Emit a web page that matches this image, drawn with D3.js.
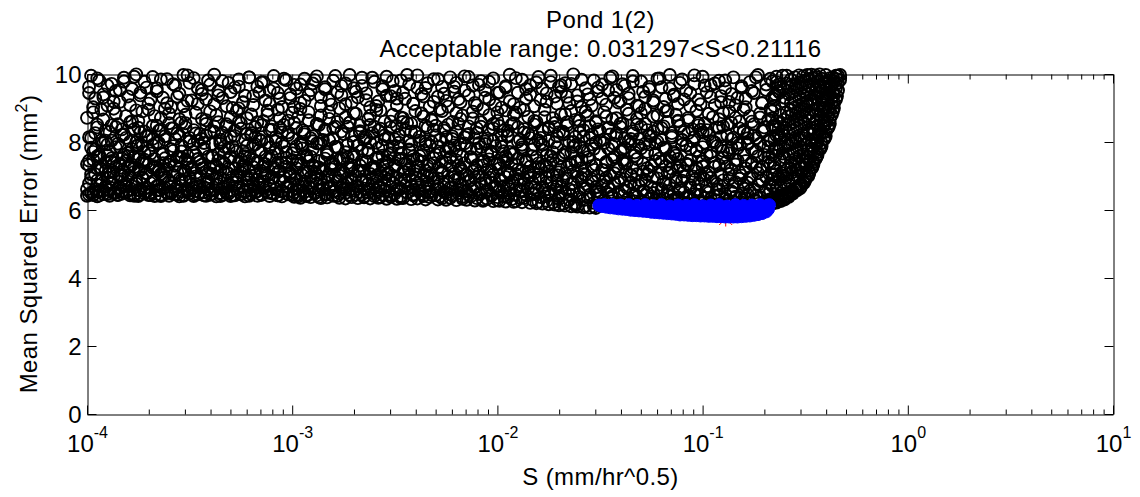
<!DOCTYPE html>
<html>
<head>
<meta charset="utf-8">
<script src="https://cdn.jsdelivr.net/npm/d3@7"></script>
<style>
  body { margin: 0; background: #fff; }
  svg { display: block; }
  text { font-family: "Liberation Sans", Arial, Helvetica, sans-serif; fill: #000; }
</style>
</head>
<body>
<svg id="chart" width="1140" height="497"></svg>
<script>
// Each run: [log10(S), mean squared error]
// Runs close to the error floor, S from 1e-4 to ~0.03 (first batch)
const floorRunsLeft = [
[-4.00,6.42],[-3.99,6.78],[-3.98,6.50],[-3.98,7.05],[-3.97,6.44],[-3.96,6.62],[-3.95,6.87],[-3.95,6.40],[-3.94,6.55],[-3.93,7.21],
[-3.92,6.47],[-3.91,6.69],[-3.90,6.96],[-3.89,6.42],[-3.89,6.58],[-3.88,6.81],[-3.87,7.12],[-3.86,6.51],[-3.85,6.45],[-3.84,6.65],
[-3.83,7.00],[-3.83,6.48],[-3.82,6.73],[-3.81,6.53],[-3.80,6.90],[-3.79,6.43],[-3.78,6.60],[-3.77,7.26],[-3.77,6.46],[-3.76,6.77],
[-3.75,6.41],[-3.74,6.57],[-3.73,6.93],[-3.72,6.49],[-3.71,6.66],[-3.71,7.08],[-3.70,6.44],[-3.69,6.52],[-3.68,6.84],[-3.67,6.41],
[-3.66,6.70],[-3.65,6.59],[-3.65,7.17],[-3.64,6.45],[-3.63,6.63],[-3.62,6.97],[-3.61,6.50],[-3.60,6.42],[-3.59,6.79],[-3.59,6.55],
[-3.58,7.03],[-3.57,6.47],[-3.56,6.68],[-3.55,6.40],[-3.54,6.88],[-3.53,6.54],[-3.53,6.43],[-3.52,7.14],[-3.51,6.61],[-3.50,6.49],
[-3.49,6.75],[-3.48,6.41],[-3.47,6.99],[-3.47,6.56],[-3.46,6.46],[-3.45,6.71],[-3.44,7.22],[-3.43,6.52],[-3.42,6.42],[-3.41,6.85],
[-3.41,6.63],[-3.40,6.45],[-3.39,7.06],[-3.38,6.58],[-3.37,6.40],[-3.36,6.76],[-3.35,6.50],[-3.35,6.94],[-3.34,6.44],[-3.33,6.67],
[-3.32,7.11],[-3.31,6.48],[-3.30,6.41],[-3.29,6.82],[-3.29,6.57],[-3.28,6.43],[-3.27,6.98],[-3.26,6.64],[-3.25,6.46],[-3.24,7.19],
[-3.23,6.53],[-3.23,6.40],[-3.22,6.72],[-3.21,6.89],[-3.20,6.47],[-3.19,6.60],[-3.18,7.02],[-3.17,6.42],[-3.17,6.55],[-3.16,6.80],
[-3.15,6.45],[-3.14,6.66],[-3.13,7.09],[-3.12,6.51],[-3.11,6.41],[-3.11,6.74],[-3.10,6.95],[-3.09,6.48],[-3.08,6.61],[-3.07,6.43],
[-3.06,7.15],[-3.05,6.56],[-3.05,6.40],[-3.04,6.83],[-3.03,6.49],[-3.02,6.69],[-3.01,7.00],[-3.00,6.44],
[-2.99,6.39],[-2.98,6.62],[-2.98,6.91],[-2.97,6.45],[-2.96,6.36],[-2.95,6.77],[-2.94,6.53],[-2.94,7.13],[-2.93,6.41],[-2.92,6.68],
[-2.91,6.38],[-2.90,6.86],[-2.89,6.50],[-2.88,7.04],[-2.88,6.43],[-2.87,6.59],[-2.86,6.35],[-2.85,6.73],[-2.84,6.47],[-2.83,6.97],
[-2.83,6.37],[-2.82,6.64],[-2.81,7.20],[-2.80,6.42],[-2.79,6.55],[-2.78,6.84],[-2.77,6.36],[-2.77,6.49],[-2.76,7.07],[-2.75,6.61],
[-2.74,6.34],[-2.73,6.78],[-2.72,6.44],[-2.71,6.92],[-2.71,6.38],[-2.70,6.57],[-2.69,6.70],[-2.68,6.35],[-2.67,7.16],[-2.66,6.46],
[-2.65,6.63],[-2.65,6.37],[-2.64,6.88],[-2.63,6.52],[-2.62,6.34],[-2.61,6.75],[-2.60,6.41],[-2.59,7.01],[-2.59,6.58],[-2.58,6.36],
[-2.57,6.67],[-2.56,6.45],[-2.55,6.95],[-2.54,6.33],[-2.53,6.54],[-2.53,7.10],[-2.52,6.39],[-2.51,6.80],[-2.50,6.48],[-2.49,6.33],
[-2.48,6.62],[-2.47,6.90],[-2.47,6.41],[-2.46,6.35],[-2.45,6.72],[-2.44,6.51],[-2.43,7.18],[-2.42,6.32],[-2.41,6.59],[-2.41,6.43],
[-2.40,6.85],[-2.39,6.34],[-2.38,6.66],[-2.37,6.47],[-2.36,7.03],[-2.35,6.31],[-2.35,6.55],[-2.34,6.78],[-2.33,6.38],[-2.32,6.44],
[-2.31,6.93],[-2.30,6.61],[-2.29,6.31],[-2.29,6.70],[-2.28,6.40],[-2.27,7.08],[-2.26,6.53],[-2.25,6.30],[-2.24,6.82],[-2.23,6.46],
[-2.23,6.36],[-2.22,6.64],[-2.21,6.97],[-2.20,6.29],[-2.19,6.50],[-2.18,6.74],[-2.17,6.39],[-2.17,7.14],[-2.16,6.57],[-2.15,6.30],
[-2.14,6.43],[-2.13,6.88],[-2.12,6.60],[-2.11,6.28],[-2.11,6.68],[-2.10,6.35],[-2.09,7.00],[-2.08,6.48],[-2.07,6.27],[-2.06,6.79],
[-2.05,6.54],[-2.05,6.33],[-2.04,6.95],[-2.03,6.42],[-2.02,6.26],[-2.01,6.65],[-2.00,6.38],
[-1.99,6.27],[-1.99,6.58],[-1.98,6.86],[-1.97,6.40],[-1.96,6.25],[-1.95,6.71],[-1.94,6.49],[-1.94,7.05],[-1.93,6.32],[-1.92,6.24],
[-1.91,6.62],[-1.90,6.91],[-1.89,6.36],[-1.88,6.23],[-1.88,6.55],[-1.87,6.77],[-1.86,6.44],[-1.85,7.12],[-1.84,6.21],[-1.83,6.30],
[-1.82,6.66],[-1.82,6.48],[-1.81,6.20],[-1.80,6.96],[-1.79,6.38],[-1.78,6.19],[-1.77,6.59],[-1.76,6.82],[-1.76,6.27],[-1.75,6.17],
[-1.74,6.45],[-1.73,7.02],[-1.72,6.16],[-1.71,6.69],[-1.70,6.33],[-1.70,6.14],[-1.69,6.52],[-1.68,6.88],[-1.67,6.13],[-1.66,6.24],
[-1.65,6.61],[-1.64,6.42],[-1.64,6.11],[-1.63,6.78],[-1.62,6.19],[-1.61,6.10],[-1.60,6.50],[-1.59,6.95],[-1.58,6.29],[-1.58,6.08],
[-1.57,6.64],[-1.56,6.37],[-1.55,6.07],[-1.54,6.84],[-1.53,6.21],[-1.52,6.55],[-1.52,6.06],[-1.51,6.46],[-1.50,6.15]
];

// Runs close to the error floor, S from 1e-4 to ~0.03 (second batch)
const floorRunsLeft2 = [
[-4.00,6.61],[-3.99,7.32],[-3.99,6.45],[-3.98,6.93],[-3.97,7.48],[-3.97,6.52],[-3.96,7.05],[-3.95,6.74],[-3.95,7.58],[-3.94,6.43],
[-3.93,6.86],[-3.93,7.19],[-3.92,6.57],[-3.91,7.40],[-3.91,6.68],[-3.90,6.47],[-3.89,7.11],[-3.89,6.81],[-3.88,7.52],[-3.87,6.50],
[-3.87,6.99],[-3.86,7.27],[-3.85,6.64],[-3.85,6.44],[-3.84,7.36],[-3.83,6.90],[-3.83,6.55],[-3.82,7.14],[-3.81,6.77],[-3.81,7.45],
[-3.80,7.02],[-3.79,6.48],[-3.79,7.29],[-3.78,6.70],[-3.77,6.42],[-3.77,7.55],[-3.76,6.84],[-3.75,6.59],[-3.75,7.17],[-3.74,6.46],
[-3.73,6.96],[-3.73,7.42],[-3.72,6.63],[-3.71,7.08],[-3.71,6.53],[-3.70,7.34],[-3.69,6.79],[-3.69,6.44],[-3.68,7.24],[-3.67,6.88],
[-3.67,7.50],[-3.66,6.58],[-3.65,6.72],[-3.65,7.12],[-3.64,6.41],[-3.63,7.38],[-3.63,6.95],[-3.62,6.66],[-3.61,7.21],[-3.61,6.51],
[-3.60,6.83],[-3.59,7.44],[-3.59,6.49],[-3.58,7.01],[-3.57,6.62],[-3.57,7.30],[-3.56,6.45],[-3.55,6.91],[-3.55,7.56],[-3.54,6.71],
[-3.53,6.42],[-3.53,7.16],[-3.52,6.85],[-3.51,7.39],[-3.51,6.54],[-3.50,6.97],[-3.49,7.25],[-3.49,6.60],[-3.48,6.46],[-3.47,7.09],
[-3.47,6.76],[-3.46,7.49],[-3.45,6.52],[-3.45,6.94],[-3.44,7.33],[-3.43,6.67],[-3.43,6.43],[-3.42,7.13],[-3.41,6.80],[-3.41,7.57],
[-3.40,6.58],[-3.39,7.04],[-3.39,6.47],[-3.38,7.28],[-3.37,6.73],[-3.37,6.92],[-3.36,7.46],[-3.35,6.41],[-3.35,7.18],[-3.34,6.63],
[-3.33,6.87],[-3.33,7.37],[-3.32,6.50],[-3.31,7.07],[-3.31,6.75],[-3.30,7.53],[-3.29,6.44],[-3.29,6.98],[-3.28,7.22],[-3.27,6.60],
[-3.27,6.82],[-3.26,7.41],[-3.25,6.48],[-3.25,7.10],[-3.24,6.69],[-3.23,7.31],[-3.23,6.56],[-3.22,6.93],[-3.21,7.54],[-3.21,6.42],
[-3.20,7.00],[-3.19,6.78],[-3.19,7.26],[-3.18,6.53],[-3.17,6.89],[-3.17,7.43],[-3.16,6.65],[-3.15,7.15],[-3.15,6.45],[-3.14,6.84],
[-3.13,7.35],[-3.13,6.57],[-3.12,7.03],[-3.11,6.71],[-3.11,7.50],[-3.10,6.49],[-3.09,6.95],[-3.09,7.20],[-3.08,6.62],[-3.07,6.43],
[-3.07,7.12],[-3.06,6.86],[-3.05,7.39],[-3.05,6.54],[-3.04,6.97],[-3.03,7.27],[-3.03,6.68],[-3.02,6.46],[-3.01,7.06],[-3.01,6.79],
[-3.00,7.47],[-2.99,6.52],[-2.99,6.90],[-2.98,7.23],[-2.97,6.40],[-2.97,6.73],[-2.96,7.36],[-2.95,6.58],[-2.95,7.02],[-2.94,6.84],
[-2.93,7.55],[-2.93,6.44],[-2.92,7.14],[-2.91,6.66],[-2.91,6.97],[-2.90,7.30],[-2.89,6.49],[-2.89,7.09],[-2.88,6.78],[-2.87,7.44],
[-2.87,6.38],[-2.86,6.92],[-2.85,7.19],[-2.85,6.61],[-2.84,7.51],[-2.83,6.81],[-2.83,6.46],[-2.82,7.04],[-2.81,6.69],[-2.81,7.34],
[-2.80,6.55],[-2.79,6.99],[-2.79,7.27],[-2.78,6.42],[-2.77,6.87],[-2.77,7.48],[-2.76,6.64],[-2.75,7.11],[-2.75,6.75],[-2.74,6.50],
[-2.73,7.38],[-2.73,6.94],[-2.72,6.59],[-2.71,7.21],[-2.71,6.83],[-2.70,7.56],[-2.69,6.45],[-2.69,7.00],[-2.68,6.71],[-2.67,7.31],
[-2.67,6.53],[-2.66,6.89],[-2.65,7.15],[-2.65,6.40],[-2.64,7.42],[-2.63,6.77],[-2.63,6.60],[-2.62,7.06],[-2.61,6.96],[-2.61,7.25],
[-2.60,6.48],[-2.59,6.85],[-2.59,7.53],[-2.58,6.67],[-2.57,7.08],[-2.57,6.38],[-2.56,7.33],[-2.55,6.74],[-2.55,6.56],[-2.54,7.18],
[-2.53,6.91],[-2.53,7.45],[-2.52,6.44],[-2.51,7.01],[-2.51,6.80],[-2.50,7.28],[-2.49,6.58],[-2.49,6.95],[-2.48,7.50],[-2.47,6.63],
[-2.47,6.36],[-2.46,7.12],[-2.45,6.86],[-2.45,7.37],[-2.44,6.52],[-2.43,6.98],[-2.43,7.22],[-2.42,6.70],[-2.41,7.57],[-2.41,6.46],
[-2.40,7.05],[-2.39,6.79],[-2.39,7.30],[-2.38,6.57],[-2.37,6.90],[-2.37,7.43],[-2.36,6.41],[-2.35,7.16],[-2.35,6.68],[-2.34,6.97],
[-2.33,7.35],[-2.33,6.54],[-2.32,7.02],[-2.31,6.82],[-2.31,7.52],[-2.30,6.44],[-2.29,6.93],[-2.29,7.24],[-2.28,6.62],[-2.27,6.35],
[-2.27,7.10],[-2.26,6.76],[-2.25,7.40],[-2.25,6.51],[-2.24,6.99],[-2.23,7.29],[-2.23,6.65],[-2.22,6.43],[-2.21,7.07],[-2.21,6.87],
[-2.20,7.46],[-2.19,6.58],[-2.19,6.94],[-2.18,7.20],[-2.17,6.33],[-2.17,6.72],[-2.16,7.38],[-2.15,6.55],[-2.15,7.03],[-2.14,6.84],
[-2.13,7.54],[-2.13,6.40],[-2.12,7.13],[-2.11,6.67],[-2.11,6.96],[-2.10,7.32],[-2.09,6.47],[-2.09,7.08],[-2.08,6.78],[-2.07,7.44],
[-2.07,6.31],[-2.06,6.91],[-2.05,7.19],[-2.05,6.60],[-2.04,7.49],[-2.03,6.81],[-2.03,6.44],[-2.02,7.04],[-2.01,6.70],[-2.01,7.34],
[-2.00,6.29],[-1.99,6.88],[-1.99,7.22],[-1.98,6.52],[-1.97,7.45],[-1.97,6.70],[-1.96,6.97],[-1.95,6.38],[-1.95,7.12],[-1.94,6.61],
[-1.93,7.36],[-1.93,6.83],[-1.92,6.45],[-1.91,7.05],[-1.91,6.26],[-1.90,7.51],[-1.89,6.74],[-1.89,6.56],[-1.88,7.17],[-1.87,6.92],
[-1.87,6.35],[-1.86,7.40],[-1.85,6.64],[-1.85,6.99],[-1.84,7.28],[-1.83,6.47],[-1.83,6.81],[-1.82,7.09],[-1.81,6.58],[-1.81,7.55],
[-1.80,6.24],[-1.79,6.90],[-1.79,7.20],[-1.78,6.68],[-1.77,6.40],[-1.77,7.33],[-1.76,6.95],[-1.75,6.53],[-1.75,7.13],[-1.74,6.79],
[-1.73,6.22],[-1.73,7.47],[-1.72,6.60],[-1.71,7.02],[-1.71,6.86],[-1.70,6.41],[-1.69,7.26],[-1.69,6.70],[-1.68,6.18],[-1.67,7.07],
[-1.67,6.51],[-1.66,6.93],[-1.65,7.38],[-1.65,6.30],[-1.64,6.77],[-1.63,7.15],[-1.63,6.57],[-1.62,6.14],[-1.61,6.98],[-1.61,7.42],
[-1.60,6.38],[-1.59,6.84],[-1.59,7.23],[-1.58,6.62],[-1.57,6.12],[-1.57,7.04],[-1.56,6.72],[-1.55,7.49],[-1.55,6.45],[-1.54,6.91],
[-1.53,6.10],[-1.53,7.18],[-1.52,6.67],[-1.51,6.34],[-1.51,7.01]
];

// Runs just above the accepted band, S from ~0.03 to ~0.22
const floorRunsMid = [
[-1.49,6.72],[-1.48,6.28],[-1.47,6.95],[-1.46,6.47],[-1.46,6.18],[-1.45,6.60],[-1.44,6.36],[-1.43,7.08],[-1.42,6.22],[-1.41,6.81],
[-1.41,6.53],[-1.40,6.17],[-1.39,6.41],[-1.38,6.90],[-1.37,6.30],[-1.37,6.66],[-1.36,6.20],[-1.35,7.01],[-1.34,6.49],[-1.33,6.25],
[-1.33,6.75],[-1.32,6.38],[-1.31,6.17],[-1.30,6.86],[-1.29,6.57],[-1.29,6.23],[-1.28,6.44],[-1.27,7.05],[-1.26,6.32],[-1.25,6.19],
[-1.25,6.68],[-1.24,6.50],[-1.23,6.27],[-1.22,6.93],[-1.21,6.40],[-1.21,6.18],[-1.20,6.62],[-1.19,6.34],[-1.18,6.79],[-1.17,6.21],
[-1.17,6.55],[-1.16,7.10],[-1.15,6.29],[-1.14,6.46],[-1.13,6.17],[-1.13,6.84],[-1.12,6.37],[-1.11,6.64],[-1.10,6.24],[-1.09,6.98],
[-1.09,6.52],[-1.08,6.19],[-1.07,6.42],[-1.06,6.73],[-1.05,6.31],[-1.05,6.17],[-1.04,6.89],[-1.03,6.58],[-1.02,6.26],[-1.01,6.45],
[-1.01,7.03],[-1.00,6.20],[-0.99,6.36],[-0.98,6.69],[-0.97,6.23],[-0.97,6.51],[-0.96,6.95],[-0.95,6.17],[-0.94,6.40],[-0.93,6.77],
[-0.93,6.28],[-0.92,6.61],[-0.91,6.19],[-0.90,6.87],[-0.89,6.47],[-0.89,6.33],[-0.88,6.18],[-0.87,7.06],[-0.86,6.55],[-0.85,6.25],
[-0.85,6.70],[-0.84,6.39],[-0.83,6.17],[-0.82,6.92],[-0.81,6.48],[-0.81,6.22],[-0.80,6.63],[-0.79,6.34],[-0.78,6.80],[-0.77,6.19],
[-0.77,6.56],[-0.76,6.99],[-0.75,6.30],[-0.74,6.43],[-0.73,6.18],[-0.73,6.74],[-0.72,6.37],[-0.71,6.88],[-0.70,6.24],[-0.69,6.59],
[-0.69,6.17],[-0.68,6.46],[-0.67,6.78],[-0.66,6.20],
[-1.50,6.52],[-1.49,7.18],[-1.48,6.85],[-1.47,6.23],[-1.47,7.40],[-1.46,6.68],[-1.45,7.02],[-1.44,6.41],[-1.43,6.78],[-1.42,7.29],
[-1.41,6.20],[-1.40,6.93],[-1.39,7.47],[-1.38,6.56],[-1.37,7.12],[-1.36,6.35],[-1.35,6.81],[-1.34,7.24],[-1.33,6.46],[-1.32,7.05],
[-1.31,6.72],[-1.30,6.28],[-1.29,7.36],[-1.28,6.88],[-1.27,6.51],[-1.26,7.15],[-1.25,6.40],[-1.24,6.97],[-1.23,7.44],[-1.22,6.63],
[-1.21,6.24],[-1.20,7.08],[-1.19,6.83],[-1.18,7.30],[-1.17,6.44],[-1.16,6.74],[-1.15,7.21],[-1.14,6.30],[-1.13,6.95],[-1.12,7.50],
[-1.11,6.58],[-1.10,6.86],[-1.09,7.14],[-1.08,6.38],[-1.07,7.33],[-1.06,6.66],[-1.05,6.99],[-1.04,6.47],[-1.03,7.25],[-1.02,6.79],
[-1.01,6.22],[-1.00,7.42],[-0.99,6.90],[-0.98,6.54],[-0.97,7.10],[-0.96,6.33],[-0.95,6.84],[-0.94,7.27],[-0.93,6.61],[-0.92,6.43],
[-0.91,7.04],[-0.90,6.71],[-0.89,7.38],[-0.88,6.27],[-0.87,6.92],[-0.86,7.19],[-0.85,6.50],[-0.84,6.82],[-0.83,7.46],[-0.82,6.36],
[-0.81,7.01],[-0.80,6.75],[-0.79,7.22],[-0.78,6.45],[-0.77,6.94],[-0.76,7.35],[-0.75,6.60],[-0.74,6.25],[-0.73,7.09],[-0.72,6.85],
[-0.71,7.28],[-0.70,6.52],[-0.69,6.97],[-0.68,7.41],[-0.67,6.32],[-0.66,6.70]
];

// Runs with error between ~7 and 10 (first batch)
const upperRuns = [
[-4.00,7.35],[-3.99,9.62],[-3.99,8.14],[-3.98,9.95],[-3.97,7.71],[-3.97,8.87],[-3.96,9.28],[-3.95,7.22],[-3.95,8.43],[-3.94,9.81],
[-3.94,7.56],[-3.93,8.05],[-3.92,9.40],[-3.92,8.66],[-3.91,7.14],[-3.90,9.07],[-3.90,7.93],[-3.89,8.29],[-3.88,9.71],[-3.88,7.44],
[-3.87,8.98],[-3.86,7.85],[-3.86,9.50],[-3.85,8.52],[-3.84,7.03],[-3.84,9.18],[-3.83,8.21],[-3.82,7.63],[-3.82,9.89],[-3.81,8.76],
[-3.80,7.28],[-3.80,9.34],[-3.79,8.01],[-3.78,7.79],[-3.78,9.56],[-3.77,8.38],[-3.77,7.12],[-3.76,8.93],[-3.76,9.99],[-3.75,7.50],
[-3.75,8.62],[-3.74,7.17],[-3.74,9.45],[-3.73,7.88],[-3.72,8.31],[-3.72,9.77],[-3.71,7.40],[-3.70,8.95],[-3.70,9.13],[-3.69,7.66],
[-3.68,8.09],[-3.68,9.91],[-3.67,7.25],[-3.66,8.48],[-3.66,9.58],[-3.65,7.97],[-3.64,8.71],[-3.64,7.06],[-3.63,9.30],[-3.62,8.17],
[-3.62,7.52],[-3.61,9.85],[-3.60,8.84],[-3.60,7.33],[-3.59,9.03],[-3.58,8.40],[-3.58,7.74],[-3.57,9.66],[-3.56,8.25],[-3.56,7.11],
[-3.55,9.42],[-3.54,8.57],[-3.54,7.90],[-3.53,9.97],[-3.52,7.47],[-3.52,8.80],[-3.51,9.21],[-3.51,7.59],[-3.50,8.12],[-3.50,9.74],
[-3.49,7.19],[-3.48,8.35],[-3.48,9.88],[-3.47,7.61],[-3.46,9.12],[-3.46,8.03],[-3.45,7.42],[-3.44,9.53],[-3.44,8.68],[-3.43,7.80],
[-3.42,9.26],[-3.42,8.19],[-3.41,7.09],[-3.40,9.69],[-3.40,8.90],[-3.39,7.54],[-3.38,8.46],[-3.38,9.98],[-3.37,7.30],[-3.36,8.58],
[-3.36,9.37],[-3.35,7.95],[-3.34,8.27],[-3.34,9.79],[-3.33,7.68],[-3.32,9.05],[-3.32,8.11],[-3.31,7.21],[-3.30,9.47],[-3.30,8.73],
[-3.29,7.87],[-3.28,9.60],[-3.28,8.33],[-3.27,7.02],[-3.26,8.99],[-3.26,9.84],[-3.25,7.49],[-3.25,8.55],[-3.24,9.16],[-3.24,7.73],
[-3.23,9.36],[-3.23,7.58],[-3.22,8.24],[-3.21,9.90],[-3.21,7.15],[-3.20,8.81],[-3.19,9.09],[-3.19,7.91],[-3.18,8.44],[-3.17,9.63],
[-3.17,7.37],[-3.16,8.07],[-3.15,9.75],[-3.15,7.70],[-3.14,8.61],[-3.13,9.22],[-3.13,7.04],[-3.12,8.92],[-3.11,9.51],[-3.11,7.83],
[-3.10,8.36],[-3.09,9.94],[-3.09,7.26],[-3.08,8.15],[-3.07,9.44],[-3.07,7.65],[-3.06,8.69],[-3.05,9.03],[-3.05,7.98],[-3.04,8.50],
[-3.03,9.82],[-3.03,7.39],[-3.02,8.28],[-3.01,9.29],[-3.01,7.10],[-3.00,8.86],[-2.99,9.68],[-2.99,7.77],[-2.98,8.41],[-2.98,9.57],
[-2.97,7.44],[-2.96,8.97],[-2.96,9.15],[-2.95,7.81],[-2.94,8.23],[-2.94,9.86],[-2.93,7.08],[-2.92,8.64],[-2.92,9.39],[-2.91,7.57],
[-2.90,8.02],[-2.90,9.72],[-2.89,7.29],[-2.88,8.53],[-2.88,9.93],[-2.87,7.96],[-2.86,8.78],[-2.86,9.06],[-2.85,7.18],[-2.84,8.37],
[-2.84,9.55],[-2.83,7.69],[-2.82,8.88],[-2.82,9.24],[-2.81,7.36],[-2.80,8.10],[-2.80,9.80],[-2.79,7.86],[-2.78,8.59],[-2.78,9.46],
[-2.77,7.01],[-2.76,8.31],[-2.76,9.65],[-2.75,7.52],[-2.74,8.72],[-2.74,9.11],[-2.73,7.92],[-2.73,8.45],[-2.72,9.97],[-2.72,7.24],
[-2.71,8.18],[-2.70,9.58],[-2.70,7.64],[-2.69,8.83],[-2.68,9.31],[-2.68,7.13],[-2.67,8.49],[-2.66,9.89],[-2.66,7.75],[-2.65,8.06],
[-2.64,9.43],[-2.64,7.41],[-2.63,8.67],[-2.62,9.02],[-2.62,7.98],[-2.61,8.26],[-2.60,9.77],[-2.60,7.20],[-2.59,8.94],[-2.58,9.19],
[-2.58,7.55],[-2.57,8.39],[-2.56,9.64],[-2.56,7.89],[-2.55,8.60],[-2.54,9.92],[-2.54,7.05],[-2.53,8.13],[-2.52,9.35],[-2.52,7.67],
[-2.51,8.80],[-2.50,9.50],[-2.50,7.32],[-2.49,8.47],[-2.49,9.08],[-2.48,7.83],[-2.48,8.21],[-2.47,9.81],[-2.47,7.46],[-2.46,8.70],
[-2.45,9.27],[-2.45,7.12],[-2.44,8.56],[-2.43,9.70],[-2.43,7.78],[-2.42,8.30],[-2.41,9.13],[-2.41,7.48],[-2.40,8.91],[-2.39,9.96],
[-2.39,7.27],[-2.38,8.04],[-2.37,9.41],[-2.37,7.62],[-2.36,8.75],[-2.35,9.59],[-2.35,7.94],[-2.34,8.42],[-2.33,9.04],[-2.33,7.07],
[-2.32,8.63],[-2.31,9.85],[-2.31,7.38],[-2.30,8.19],[-2.29,9.33],[-2.29,7.85],[-2.28,8.97],[-2.27,9.62],[-2.27,7.16],[-2.26,8.34],
[-2.25,9.21],[-2.25,7.72],[-2.24,8.51],[-2.23,9.90],[-2.23,7.53],[-2.22,8.09],[-2.21,9.48],[-2.21,7.90],[-2.20,8.85],[-2.20,9.74],
[-2.19,7.31],[-2.18,8.68],[-2.18,9.17],[-2.17,7.59],[-2.16,8.14],[-2.16,9.93],[-2.15,7.04],[-2.14,8.46],[-2.14,9.38],[-2.13,7.80],
[-2.12,8.89],[-2.12,9.66],[-2.11,7.22],[-2.10,8.27],[-2.10,9.08],[-2.09,7.97],[-2.08,8.58],[-2.08,9.79],[-2.07,7.43],[-2.06,8.01],
[-2.06,9.52],[-2.05,7.68],[-2.04,8.79],[-2.04,9.25],[-2.03,7.14],[-2.02,8.40],[-2.02,9.87],[-2.01,7.88],[-2.00,8.62],[-2.00,9.44],
[-1.99,7.35],[-1.98,8.20],[-1.98,9.01],[-1.97,7.73],[-1.96,8.93],[-1.96,9.60],[-1.95,7.50],[-1.95,8.33],[-1.94,9.98],[-1.94,7.09],
[-1.93,8.52],[-1.92,9.11],[-1.92,7.66],[-1.91,8.86],[-1.90,9.45],[-1.90,7.19],[-1.89,8.07],[-1.88,9.83],[-1.88,7.84],[-1.87,8.38],
[-1.86,9.28],[-1.86,7.45],[-1.85,8.74],[-1.84,9.67],[-1.84,7.02],[-1.83,8.24],[-1.82,9.05],[-1.82,7.91],[-1.81,8.60],[-1.80,9.91],
[-1.80,7.37],[-1.79,8.12],[-1.78,9.56],[-1.78,7.76],[-1.77,8.95],[-1.76,9.19],[-1.76,7.28],[-1.75,8.44],[-1.74,9.76],[-1.74,7.58],
[-1.73,8.70],[-1.72,9.34],[-1.72,7.99],[-1.71,8.17],[-1.70,9.63],[-1.70,7.11],[-1.69,8.81],[-1.69,9.47],[-1.68,7.63],[-1.68,8.30],
[-1.67,9.73],[-1.66,7.26],[-1.66,8.49],[-1.65,9.14],[-1.64,7.70],[-1.64,8.91],[-1.63,9.99],[-1.62,7.42],[-1.62,8.15],[-1.61,9.37],
[-1.60,7.87],[-1.60,8.63],[-1.59,9.02],[-1.58,7.06],[-1.58,8.35],[-1.57,9.58],[-1.56,7.55],[-1.56,8.78],[-1.55,9.26],[-1.54,7.93],
[-1.54,8.22],[-1.53,9.81],[-1.52,7.33],[-1.52,8.57],[-1.51,9.49],[-1.50,7.64],[-1.50,8.04],[-1.49,9.69],[-1.48,7.17],[-1.48,8.88],
[-1.47,9.10],[-1.46,7.81],[-1.46,8.41],[-1.45,9.89],[-1.44,7.48],[-1.44,8.67],[-1.43,9.30],[-1.43,7.95],[-1.42,8.26],[-1.42,9.53],
[-1.41,7.21],[-1.40,8.54],[-1.40,9.20],[-1.39,7.77],[-1.38,8.10],[-1.38,9.65],[-1.37,7.39],[-1.36,8.83],[-1.36,9.42],[-1.35,7.03],
[-1.34,8.32],[-1.34,9.94],[-1.33,7.60],[-1.32,8.69],[-1.32,9.07],[-1.31,7.89],[-1.30,8.45],[-1.30,9.78],[-1.29,7.13],[-1.28,8.97],
[-1.28,9.33],[-1.27,7.71],[-1.26,8.18],[-1.26,9.55],[-1.25,7.30],[-1.24,8.75],[-1.24,9.16],[-1.23,7.96],[-1.22,8.38],[-1.22,9.86],
[-1.21,7.51],[-1.20,8.06],[-1.20,9.61],[-1.19,7.84],[-1.18,8.90],[-1.18,9.27],[-1.17,7.08],[-1.17,8.59],[-1.16,9.97],[-1.16,7.44],
[-1.15,8.13],[-1.14,9.39],[-1.14,7.66],[-1.13,8.80],[-1.12,9.12],[-1.12,7.24],[-1.11,8.47],[-1.10,9.84],[-1.10,7.92],[-1.09,8.29],
[-1.08,9.51],[-1.08,7.36],[-1.07,8.64],[-1.06,9.04],[-1.06,7.79],[-1.05,8.02],[-1.04,9.71],[-1.04,7.15],[-1.03,8.92],[-1.02,9.24],
[-1.02,7.57],[-1.01,8.36],[-1.00,9.92],[-1.00,7.85],[-0.99,8.55],[-0.98,9.46],[-0.98,7.05],[-0.97,8.21],[-0.96,9.67],[-0.96,7.69],
[-0.95,8.73],[-0.94,9.09],[-0.94,7.99],[-0.93,8.43],[-0.92,9.80],[-0.92,7.32],[-0.91,8.16],[-0.91,9.35],[-0.90,7.74],[-0.90,8.87],
[-0.89,9.58],[-0.88,7.28],[-0.88,8.51],[-0.87,9.18],[-0.86,7.83],[-0.86,8.08],[-0.85,9.90],[-0.84,7.47],[-0.84,8.71],[-0.83,9.30],
[-0.82,7.10],[-0.82,8.40],[-0.81,9.64],[-0.80,7.62],[-0.80,8.95],[-0.79,9.02],[-0.78,7.94],[-0.78,8.25],[-0.77,9.76],[-0.76,7.40],
[-0.76,8.60],[-0.75,9.44],[-0.74,7.72],[-0.74,8.11],[-0.73,9.97],[-0.72,7.20],[-0.72,8.84],[-0.71,9.15],[-0.70,7.88],[-0.70,8.33],
[-0.69,9.53],[-0.68,7.55],[-0.68,8.66],[-0.67,9.86],[-0.66,7.03],[-0.66,8.46],[-0.65,9.25],[-0.65,7.79],[-0.64,8.19],[-0.63,9.69]
];

// Runs with error between ~7.5 and 10 (second batch)
const upperRuns2 = [
[-4.00,8.71],[-3.99,9.44],[-3.98,7.83],[-3.97,9.02],[-3.96,8.26],[-3.95,9.87],[-3.94,7.62],[-3.93,8.95],[-3.92,9.31],[-3.91,8.04],
[-3.90,9.66],[-3.89,7.74],[-3.88,8.49],[-3.87,9.19],[-3.86,8.83],[-3.85,7.95],[-3.84,9.53],[-3.83,8.37],[-3.82,9.78],[-3.81,8.12],
[-3.80,7.58],[-3.79,9.08],[-3.78,8.61],[-3.77,9.92],[-3.76,7.88],[-3.75,8.42],[-3.74,9.37],[-3.73,8.90],[-3.72,7.69],[-3.71,9.60],
[-3.70,8.18],[-3.69,9.25],[-3.68,7.91],[-3.67,8.76],[-3.66,9.49],[-3.65,8.33],[-3.64,9.84],[-3.63,7.66],[-3.62,8.98],[-3.61,9.14],
[-3.60,8.55],[-3.59,7.79],[-3.58,9.70],[-3.57,8.09],[-3.56,9.33],[-3.55,8.67],[-3.54,7.54],[-3.53,9.05],[-3.52,8.44],[-3.51,9.96],
[-3.50,8.01],[-3.49,9.22],[-3.48,7.71],[-3.47,8.86],[-3.46,9.58],[-3.45,8.23],[-3.44,9.41],[-3.43,7.97],[-3.42,8.64],[-3.41,9.81],
[-3.40,8.30],[-3.39,7.60],[-3.38,9.11],[-3.37,8.79],[-3.36,9.50],[-3.35,8.07],[-3.34,9.29],[-3.33,7.86],[-3.32,8.52],[-3.31,9.74],
[-3.30,8.15],[-3.29,9.00],[-3.28,7.76],[-3.27,8.92],[-3.26,9.63],[-3.25,8.39],[-3.24,9.17],[-3.23,7.65],[-3.22,8.70],[-3.21,9.90],
[-3.20,8.20],[-3.19,9.35],[-3.18,7.93],[-3.17,8.58],[-3.16,9.47],[-3.15,8.03],[-3.14,9.76],[-3.13,7.57],[-3.12,8.81],[-3.11,9.13],
[-3.10,8.46],[-3.09,9.57],[-3.08,7.80],[-3.07,8.96],[-3.06,9.27],[-3.05,8.28],[-3.04,9.86],[-3.03,7.70],[-3.02,8.63],[-3.01,9.40],
[-3.00,8.11],[-2.99,9.03],[-2.98,7.87],[-2.97,8.74],[-2.96,9.69],[-2.95,8.35],[-2.94,9.21],[-2.93,7.61],[-2.92,8.88],[-2.91,9.52],
[-2.90,8.17],[-2.89,9.82],[-2.88,7.96],[-2.87,8.50],[-2.86,9.32],[-2.85,8.06],[-2.84,9.61],[-2.83,7.73],[-2.82,8.68],[-2.81,9.10],
[-2.80,8.41],[-2.79,9.94],[-2.78,7.84],[-2.77,8.99],[-2.76,9.38],[-2.75,8.24],[-2.74,9.72],[-2.73,7.55],[-2.72,8.57],[-2.71,9.16],
[-2.70,8.85],[-2.69,9.48],[-2.68,7.90],[-2.67,8.32],[-2.66,9.65],[-2.65,8.13],[-2.64,9.23],[-2.63,7.68],[-2.62,8.77],[-2.61,9.89],
[-2.60,8.45],[-2.59,9.06],[-2.58,7.82],[-2.57,8.93],[-2.56,9.55],[-2.55,8.19],[-2.54,9.36],[-2.53,7.63],[-2.52,8.60],[-2.51,9.79],
[-2.50,8.08],[-2.49,9.28],[-2.48,7.98],[-2.47,8.72],[-2.46,9.45],[-2.45,8.36],[-2.44,9.97],[-2.43,7.75],[-2.42,8.54],[-2.41,9.12],
[-2.40,8.27],[-2.39,9.59],[-2.38,7.59],[-2.37,8.84],[-2.36,9.34],[-2.35,8.02],[-2.34,9.73],[-2.33,7.89],[-2.32,8.66],[-2.31,9.18],
[-2.30,8.48],[-2.29,9.85],[-2.28,7.67],[-2.27,8.91],[-2.26,9.42],[-2.25,8.14],[-2.24,9.04],[-2.23,7.81],[-2.22,8.59],[-2.21,9.62],
[-2.20,8.31],[-2.19,9.26],[-2.18,7.94],[-2.17,8.78],[-2.16,9.51],[-2.15,8.21],[-2.14,9.91],[-2.13,7.56],[-2.12,8.69],[-2.11,9.15],
[-2.10,8.40],[-2.09,9.68],[-2.08,7.85],[-2.07,8.97],[-2.06,9.30],[-2.05,8.10],[-2.04,9.77],[-2.03,7.72],[-2.02,8.53],[-2.01,9.09],
[-2.00,8.87],[-1.99,9.46],[-1.98,7.99],[-1.97,8.34],[-1.96,9.64],[-1.95,8.16],[-1.94,9.20],[-1.93,7.64],[-1.92,8.80],[-1.91,9.88],
[-1.90,8.43],[-1.89,9.01],[-1.88,7.78],[-1.87,8.94],[-1.86,9.56],[-1.85,8.25],[-1.84,9.39],[-1.83,7.58],[-1.82,8.62],[-1.81,9.75],
[-1.80,8.05],[-1.79,9.24],[-1.78,7.92],[-1.77,8.73],[-1.76,9.43],[-1.75,8.38],[-1.74,9.95],[-1.73,7.70],[-1.72,8.56],[-1.71,9.13],
[-1.70,8.29],[-1.69,9.67],[-1.68,7.61],[-1.67,8.82],[-1.66,9.33],[-1.65,8.00],[-1.64,9.71],[-1.63,7.86],[-1.62,8.65],[-1.61,9.19],
[-1.60,8.47],[-1.59,9.83],[-1.58,7.74],[-1.57,8.89],[-1.56,9.40],[-1.55,8.12],[-1.54,9.07],[-1.53,7.80],[-1.52,8.61],[-1.51,9.60],
[-1.50,8.32],[-1.49,9.27],[-1.48,7.97],[-1.47,8.75],[-1.46,9.52],[-1.45,8.22],[-1.44,9.93],[-1.43,7.57],[-1.42,8.70],[-1.41,9.16],
[-1.40,8.44],[-1.39,9.70],[-1.38,7.83],[-1.37,8.95],[-1.36,9.29],[-1.35,8.09],[-1.34,9.78],[-1.33,7.69],[-1.32,8.51],[-1.31,9.05],
[-1.30,8.85],[-1.29,9.48],[-1.28,7.95],[-1.27,8.35],[-1.26,9.62],[-1.25,8.17],[-1.24,9.22],[-1.23,7.65],[-1.22,8.78],[-1.21,9.87],
[-1.20,8.41],[-1.19,9.03],[-1.18,7.79],[-1.17,8.92],[-1.16,9.57],[-1.15,8.26],[-1.14,9.35],[-1.13,7.60],[-1.12,8.63],[-1.11,9.74],
[-1.10,8.06],[-1.09,9.25],[-1.08,7.90],[-1.07,8.71],[-1.06,9.44],[-1.05,8.37],[-1.04,9.96],[-1.03,7.73],[-1.02,8.55],[-1.01,9.11],
[-1.00,8.28],[-0.99,9.66],[-0.98,7.62],[-0.97,8.83],[-0.96,9.32],[-0.95,8.01],[-0.94,9.72],[-0.93,7.88],[-0.92,8.67],[-0.91,9.17],
[-0.90,8.46],[-0.89,9.81],[-0.88,7.76],[-0.87,8.90],[-0.86,9.41],[-0.85,8.13],[-0.84,9.08],[-0.83,7.82],[-0.82,8.60],[-0.81,9.59],
[-0.80,8.33],[-0.79,9.28],[-0.78,7.98],[-0.77,8.76],[-0.76,9.50],[-0.75,8.20],[-0.74,9.90],[-0.73,7.58],[-0.72,8.72],[-0.71,9.14],
[-0.70,8.43],[-0.69,9.69],[-0.68,7.85],[-0.67,8.97],[-0.66,9.30],[-0.65,8.08],[-0.64,9.76]
];

// Runs with error between ~7.2 and 8.6 (third batch)
const upperRuns3 = [
[-3.99,7.45],[-3.98,8.12],[-3.96,7.78],[-3.95,8.51],[-3.94,7.26],[-3.92,7.96],[-3.91,8.33],[-3.90,7.61],[-3.88,8.04],[-3.87,7.38],
[-3.86,8.44],[-3.84,7.85],[-3.83,7.52],[-3.82,8.22],[-3.80,7.69],[-3.79,8.58],[-3.78,7.33],[-3.76,8.00],[-3.75,7.91],[-3.74,8.28],
[-3.72,7.48],[-3.71,8.16],[-3.70,7.74],[-3.68,8.47],[-3.67,7.29],[-3.66,7.99],[-3.64,8.37],[-3.63,7.64],[-3.62,8.07],[-3.60,7.41],
[-3.59,8.40],[-3.58,7.88],[-3.56,7.55],[-3.55,8.19],[-3.54,7.72],[-3.52,8.55],[-3.51,7.36],[-3.50,8.03],[-3.48,7.94],[-3.47,8.25],
[-3.46,7.50],[-3.44,8.09],[-3.43,7.81],[-3.42,8.53],[-3.40,7.23],[-3.39,7.93],[-3.38,8.30],[-3.36,7.66],[-3.35,8.01],[-3.34,7.42],
[-3.32,8.46],[-3.31,7.82],[-3.30,7.57],[-3.28,8.18],[-3.27,7.71],[-3.26,8.60],[-3.24,7.31],[-3.23,8.06],[-3.22,7.89],[-3.20,8.26],
[-3.19,7.47],[-3.18,8.14],[-3.16,7.76],[-3.15,8.49],[-3.14,7.28],[-3.12,7.98],[-3.11,8.35],[-3.10,7.59],[-3.08,8.02],[-3.07,7.39],
[-3.06,8.42],[-3.04,7.87],[-3.03,7.53],[-3.02,8.20],[-3.00,7.67],[-2.99,8.56],[-2.98,7.34],[-2.96,7.97],[-2.95,7.92],[-2.94,8.29],
[-2.92,7.44],[-2.91,8.11],[-2.90,7.79],[-2.88,8.52],[-2.87,7.25],[-2.86,7.95],[-2.84,8.32],[-2.83,7.62],[-2.82,8.05],[-2.80,7.37],
[-2.79,8.45],[-2.78,7.84],[-2.76,7.51],[-2.75,8.23],[-2.74,7.70],[-2.72,8.57],[-2.71,7.32],[-2.70,8.00],[-2.68,7.90],[-2.67,8.27],
[-2.66,7.46],[-2.64,8.13],[-2.63,7.77],[-2.62,8.50],[-2.60,7.27],[-2.59,7.98],[-2.58,8.34],[-2.56,7.60],[-2.55,8.08],[-2.54,7.40],
[-2.52,8.43],[-2.51,7.86],[-2.50,7.54],[-2.48,8.21],[-2.47,7.68],[-2.46,8.59],[-2.44,7.35],[-2.43,8.02],[-2.42,7.93],[-2.40,8.30],
[-2.39,7.49],[-2.38,8.15],[-2.36,7.75],[-2.35,8.48],[-2.34,7.30],[-2.32,7.99],[-2.31,8.36],[-2.30,7.63],[-2.28,8.06],[-2.27,7.43],
[-2.26,8.41],[-2.24,7.83],[-2.23,7.56],[-2.22,8.17],[-2.20,7.73],[-2.19,8.54],[-2.18,7.24],[-2.16,7.96],[-2.15,7.88],[-2.14,8.24],
[-2.12,7.50],[-2.11,8.10],[-2.10,7.80],[-2.08,8.45],[-2.07,7.31],[-2.06,7.94],[-2.04,8.38],[-2.03,7.65],[-2.02,8.03],[-2.00,7.36],
[-1.99,8.47],[-1.98,7.86],[-1.96,7.58],[-1.95,8.19],[-1.94,7.71],[-1.92,8.55],[-1.91,7.33],[-1.90,8.01],[-1.88,7.92],[-1.87,8.28],
[-1.86,7.45],[-1.84,8.12],[-1.83,7.78],[-1.82,8.51],[-1.80,7.26],[-1.79,7.96],[-1.78,8.33],[-1.76,7.61],[-1.75,8.04],[-1.74,7.38],
[-1.72,8.44],[-1.71,7.85],[-1.70,7.52],[-1.68,8.22],[-1.67,7.69],[-1.66,8.58],[-1.64,7.33],[-1.63,8.00],[-1.62,7.91],[-1.60,8.28],
[-1.59,7.48],[-1.58,8.16],[-1.56,7.74],[-1.55,8.47],[-1.54,7.29],[-1.52,7.99],[-1.51,8.37],[-1.50,7.64],[-1.48,8.07],[-1.47,7.41],
[-1.46,8.40],[-1.44,7.88],[-1.43,7.55],[-1.42,8.19],[-1.40,7.72],[-1.39,8.55],[-1.38,7.36],[-1.36,8.03],[-1.35,7.94],[-1.34,8.25],
[-1.32,7.50],[-1.31,8.09],[-1.30,7.81],[-1.28,8.53],[-1.27,7.23],[-1.26,7.93],[-1.24,8.30],[-1.23,7.66],[-1.22,8.01],[-1.20,7.42],
[-1.19,8.46],[-1.18,7.82],[-1.16,7.57],[-1.15,8.18],[-1.14,7.71],[-1.12,8.60],[-1.11,7.31],[-1.10,8.06],[-1.08,7.89],[-1.07,8.26],
[-1.06,7.47],[-1.04,8.14],[-1.03,7.76],[-1.02,8.49],[-1.00,7.28],[-0.99,7.98],[-0.98,8.35],[-0.96,7.59],[-0.95,8.02],[-0.94,7.39],
[-0.92,8.42],[-0.91,7.87],[-0.90,7.53],[-0.88,8.20],[-0.87,7.67],[-0.86,8.56],[-0.84,7.34],[-0.83,7.97],[-0.82,7.92],[-0.80,8.29],
[-0.79,7.44],[-0.78,8.11],[-0.76,7.79],[-0.75,8.52],[-0.74,7.25],[-0.72,7.95],[-0.71,8.32],[-0.70,7.62],[-0.68,8.05],[-0.67,7.37]
];

// Runs along the steep right-hand edge, S from ~0.21 to ~0.47
const rightEdgeRuns = [
[-0.66,6.19],[-0.65,6.35],[-0.67,6.58],[-0.66,6.90],[-0.65,7.25],[-0.66,7.62],[-0.67,8.05],[-0.65,8.48],[-0.66,8.90],[-0.65,9.35],[-0.66,9.78],[-0.67,6.27],[-0.65,7.04],[-0.66,8.70],
[-0.64,6.22],[-0.63,6.41],[-0.64,6.66],[-0.63,6.99],[-0.65,7.38],[-0.64,7.80],[-0.63,8.22],[-0.64,8.61],[-0.65,9.06],[-0.63,9.50],[-0.64,9.92],[-0.63,6.30],[-0.64,7.15],[-0.63,8.38],
[-0.62,6.26],[-0.61,6.45],[-0.62,6.73],[-0.61,7.08],[-0.62,7.47],[-0.63,7.92],[-0.61,8.33],[-0.62,8.79],[-0.61,9.20],[-0.62,9.63],[-0.61,9.95],[-0.62,6.36],[-0.61,7.66],[-0.62,8.10],
[-0.60,6.31],[-0.59,6.50],[-0.60,6.80],[-0.59,7.18],[-0.60,7.55],[-0.59,7.98],[-0.60,8.42],[-0.59,8.87],[-0.60,9.30],[-0.59,9.72],[-0.60,6.40],[-0.59,6.95],[-0.60,8.18],[-0.59,9.95],
[-0.58,6.39],[-0.57,6.55],[-0.58,6.85],[-0.57,7.22],[-0.58,7.64],[-0.57,8.06],[-0.58,8.51],[-0.57,8.95],[-0.58,9.40],[-0.57,9.84],[-0.58,6.47],[-0.57,7.40],[-0.58,8.28],[-0.57,9.15],
[-0.56,6.48],[-0.55,6.63],[-0.56,6.92],[-0.55,7.29],[-0.56,7.70],[-0.55,8.12],[-0.56,8.58],[-0.55,9.02],[-0.56,9.47],[-0.55,9.90],[-0.56,6.56],[-0.55,7.50],[-0.56,8.36],[-0.55,9.25],
[-0.54,6.58],[-0.53,6.72],[-0.54,7.00],[-0.53,7.36],[-0.54,7.77],[-0.53,8.19],[-0.54,8.64],[-0.53,9.08],[-0.54,9.53],[-0.53,9.96],[-0.54,6.66],[-0.53,7.57],[-0.54,8.42],[-0.53,9.30],
[-0.52,6.69],[-0.51,6.84],[-0.52,7.10],[-0.51,7.45],[-0.52,7.84],[-0.51,8.26],[-0.52,8.70],[-0.51,9.14],[-0.52,9.58],[-0.51,9.93],[-0.52,6.77],[-0.51,7.64],[-0.52,8.48],[-0.51,9.36],
[-0.50,6.87],[-0.49,7.01],[-0.50,7.24],[-0.49,7.56],[-0.50,7.93],[-0.49,8.33],[-0.50,8.76],[-0.49,9.19],[-0.50,9.62],[-0.49,9.97],[-0.50,6.95],[-0.49,7.74],[-0.50,8.54],[-0.49,9.41],
[-0.48,7.08],[-0.47,7.24],[-0.48,7.44],[-0.47,7.72],[-0.48,8.05],[-0.47,8.42],[-0.48,8.83],[-0.47,9.25],[-0.48,9.66],[-0.47,9.98],[-0.48,7.16],[-0.47,7.90],[-0.48,8.62],[-0.47,9.45],
[-0.46,7.34],[-0.45,7.50],[-0.46,7.69],[-0.45,7.95],[-0.46,8.24],[-0.45,8.57],[-0.46,8.94],[-0.45,9.32],[-0.46,9.71],[-0.45,9.96],[-0.46,7.42],[-0.45,8.10],[-0.46,8.76],[-0.45,9.52],
[-0.44,7.62],[-0.43,7.80],[-0.44,7.98],[-0.43,8.22],[-0.44,8.48],[-0.43,8.78],[-0.44,9.10],[-0.43,9.44],[-0.44,9.78],[-0.43,9.99],[-0.44,7.70],[-0.43,8.36],[-0.44,8.95],[-0.43,9.62],
[-0.42,7.88],[-0.41,8.08],[-0.42,8.25],[-0.41,8.47],[-0.42,8.72],[-0.41,9.00],[-0.42,9.29],[-0.41,9.58],[-0.42,9.86],[-0.42,7.97],[-0.41,8.60],[-0.42,9.15],[-0.41,9.74],
[-0.40,8.18],[-0.39,8.40],[-0.40,8.56],[-0.39,8.78],[-0.40,9.02],[-0.39,9.28],[-0.40,9.55],[-0.39,9.80],[-0.40,9.97],[-0.40,8.30],[-0.39,8.92],[-0.40,9.42],
[-0.38,8.54],[-0.37,8.80],[-0.38,8.95],[-0.37,9.18],[-0.38,9.40],[-0.37,9.64],[-0.38,9.88],[-0.38,8.68],[-0.37,9.30],[-0.38,9.76],
[-0.36,9.00],[-0.35,9.25],[-0.36,9.38],[-0.35,9.58],[-0.36,9.78],[-0.35,9.95],[-0.36,9.15],[-0.35,9.70],
[-0.34,9.52],[-0.34,9.74],[-0.33,9.82],[-0.34,9.95],[-0.33,9.97],
[-0.645,6.25],[-0.645,6.80],[-0.645,7.60],[-0.645,8.45],[-0.645,9.40],
[-0.625,6.30],[-0.625,6.90],[-0.625,7.75],[-0.625,8.55],[-0.625,9.45],
[-0.605,6.33],[-0.605,7.00],[-0.605,7.85],[-0.605,8.65],[-0.605,9.55],
[-0.585,6.42],[-0.585,7.05],[-0.585,7.90],[-0.585,8.75],[-0.585,9.60],
[-0.565,6.50],[-0.565,7.10],[-0.565,7.95],[-0.565,8.80],[-0.565,9.65],
[-0.545,6.60],[-0.545,7.18],[-0.545,8.00],[-0.545,8.85],[-0.545,9.70],
[-0.525,6.64],[-0.525,7.25],[-0.525,8.05],[-0.525,8.90],[-0.525,9.75],
[-0.505,6.80],[-0.505,7.35],[-0.505,8.10],[-0.505,8.95],[-0.505,9.80],
[-0.485,7.00],[-0.485,7.55],[-0.485,8.25],[-0.485,9.05],[-0.485,9.85],
[-0.465,7.25],[-0.465,7.80],[-0.465,8.40],[-0.465,9.10],[-0.465,9.88],
[-0.445,7.55],[-0.445,8.05],[-0.445,8.65],[-0.445,9.30],[-0.445,9.90],
[-0.425,7.80],[-0.425,8.35],[-0.425,8.90],[-0.425,9.50],
[-0.405,8.10],[-0.405,8.65],[-0.405,9.20],[-0.405,9.75],
[-0.385,8.45],[-0.385,9.00],[-0.385,9.55],
[-0.365,8.90],[-0.365,9.45],[-0.365,9.90],
[-0.345,9.35],[-0.345,9.85]
];

// Runs inside the acceptable range (0.031297 < S < 0.21116)
const acceptedRuns = [
[-1.5045,6.14],[-1.49,6.11],[-1.48,6.15],[-1.47,6.09],[-1.46,6.13],[-1.45,6.07],[-1.44,6.15],[-1.43,6.06],[-1.42,6.12],[-1.41,6.04],
[-1.40,6.14],[-1.39,6.03],[-1.38,6.10],[-1.37,6.02],[-1.36,6.15],[-1.35,6.00],[-1.34,6.08],[-1.33,5.99],[-1.32,6.13],[-1.31,5.98],
[-1.30,6.06],[-1.29,5.97],[-1.28,6.15],[-1.27,5.96],[-1.26,6.04],[-1.25,5.94],[-1.24,6.12],[-1.23,5.93],[-1.22,6.03],[-1.21,5.92],
[-1.20,6.15],[-1.19,5.91],[-1.18,6.01],[-1.17,5.90],[-1.16,6.11],[-1.15,5.89],[-1.14,5.99],[-1.13,5.88],[-1.12,6.14],[-1.11,5.86],
[-1.10,6.02],[-1.09,5.86],[-1.08,6.13],[-1.07,5.85],[-1.06,5.98],[-1.05,5.84],[-1.04,6.15],[-1.03,5.84],[-1.02,6.00],[-1.01,5.83],
[-1.00,6.12],[-0.99,5.83],[-0.98,5.96],[-0.97,5.82],[-0.96,6.14],[-0.95,5.82],[-0.94,6.01],[-0.93,5.81],[-0.92,6.15],[-0.91,5.81],
[-0.90,5.97],[-0.89,5.80],[-0.88,6.11],[-0.87,5.80],[-0.86,6.03],[-0.85,5.80],[-0.84,6.15],[-0.83,5.80],[-0.82,5.95],[-0.81,5.81],
[-0.80,6.13],[-0.79,5.82],[-0.78,6.00],[-0.77,5.83],[-0.76,6.14],[-0.75,5.85],[-0.74,6.02],[-0.73,5.87],[-0.72,6.15],[-0.71,5.90],
[-0.70,6.06],[-0.69,5.95],[-0.685,6.13],[-0.68,6.02],[-0.6754,6.15]
];

// Best fit: [S, mean squared error]
const bestFit = [0.1296, 5.75];

const yTickValues = [0, 2, 4, 6, 8, 10];
const xDecades = [-4, -3, -2, -1, 0, 1];
const titleLines = ["Pond 1(2)", "Acceptable range: 0.031297<S<0.21116"];
const xLabel = "S (mm/hr^0.5)";
const yLabel = "Mean Squared Error (mm";

const svg = d3.select("#chart");
const x = d3.scaleLog().domain([1e-4, 10]).range([87, 1113]);
const y = d3.scaleLinear().domain([0, 10]).range([414, 74]);

const minorTicks = [];
xDecades.slice(0, -1).forEach(d => {
  for (let m = 2; m <= 9; m++) minorTicks.push(m * Math.pow(10, d));
});
const majorTicks = xDecades.map(d => Math.pow(10, d));

// Axes box with inward ticks
function styleAxis(g) {
  g.selectAll("path.domain").attr("stroke", "#000").attr("stroke-width", 1);
  g.selectAll(".tick line").attr("stroke", "#000").attr("stroke-width", 1);
}
const axesLayer = svg.append("g");

axesLayer.append("g").attr("transform", `translate(0,${y(0) + 0.5})`)
  .call(d3.axisBottom(x).tickValues(majorTicks).tickSizeInner(-9).tickSizeOuter(0).tickFormat(""))
  .call(styleAxis);
axesLayer.append("g").attr("transform", `translate(0,${y(0) + 0.5})`)
  .call(d3.axisBottom(x).tickValues(minorTicks).tickSizeInner(-5).tickSizeOuter(0).tickFormat(""))
  .call(g => g.select("path.domain").remove()).call(styleAxis);
axesLayer.append("g").attr("transform", `translate(0,${y(10) + 0.5})`)
  .call(d3.axisTop(x).tickValues(majorTicks).tickSizeInner(-9).tickSizeOuter(0).tickFormat(""))
  .call(styleAxis);
axesLayer.append("g").attr("transform", `translate(0,${y(10) + 0.5})`)
  .call(d3.axisTop(x).tickValues(minorTicks).tickSizeInner(-5).tickSizeOuter(0).tickFormat(""))
  .call(g => g.select("path.domain").remove()).call(styleAxis);

const yLeft = axesLayer.append("g").attr("transform", `translate(${x(1e-4) + 0.5},0)`)
  .call(d3.axisLeft(y).tickValues(yTickValues).tickSizeInner(-9).tickSizeOuter(0).tickPadding(6))
  .call(styleAxis);
yLeft.selectAll("text")
  .attr("font-family", '"Liberation Sans", Arial, sans-serif')
  .attr("font-size", 24).attr("fill", "#000").attr("dy", "0.36em");
yLeft.attr("font-family", null).attr("font-size", null);

axesLayer.append("g").attr("transform", `translate(${x(10) + 0.5},0)`)
  .call(d3.axisRight(y).tickValues(yTickValues).tickSizeInner(-9).tickSizeOuter(0).tickFormat(""))
  .call(styleAxis);

// Decade labels 10^n
const xLabels = axesLayer.append("g");
xDecades.forEach(d => {
  const t = xLabels.append("text")
    .attr("x", x(Math.pow(10, d)) + 0.5)
    .attr("y", 452)
    .attr("text-anchor", "middle")
    .attr("font-size", 24);
  t.append("tspan").text("10");
  t.append("tspan").attr("dy", -14).attr("font-size", 16).text(String(d));
});

// Scatter of all runs: open black circles, then the accepted runs in blue
const plot = svg.append("g");
const blackRuns = [].concat(floorRunsLeft, floorRunsLeft2, floorRunsMid, upperRuns, upperRuns2, upperRuns3, rightEdgeRuns);
plot.append("g").selectAll("circle").data(blackRuns).join("circle")
  .attr("cx", d => x(Math.pow(10, d[0])))
  .attr("cy", d => y(d[1]))
  .attr("r", 6)
  .attr("fill", "none")
  .attr("stroke", "#000")
  .attr("stroke-width", 1.9);

// Best fit marker (asterisk)
const sx = x(bestFit[0]), sy = y(bestFit[1]);
const arm = 8, diag = 6.5;
plot.append("path")
  .attr("d", `M${sx - arm},${sy}L${sx + arm},${sy}M${sx},${sy - arm}L${sx},${sy + arm}` +
             `M${sx - diag},${sy - diag}L${sx + diag},${sy + diag}M${sx - diag},${sy + diag}L${sx + diag},${sy - diag}`)
  .attr("stroke", "#ff0000").attr("stroke-width", 1).attr("fill", "none");

plot.append("g").selectAll("circle").data(acceptedRuns).join("circle")
  .attr("cx", d => x(Math.pow(10, d[0])))
  .attr("cy", d => y(d[1]))
  .attr("r", 6.2)
  .attr("fill", "#0000ff")
  .attr("stroke", "#0000ff")
  .attr("stroke-width", 1);

// Titles and axis labels
const cxMid = (x.range()[0] + x.range()[1]) / 2 + 0.5;
svg.append("text").attr("x", cxMid).attr("y", 28)
  .attr("text-anchor", "middle").attr("font-size", 24).attr("letter-spacing", 0.4).text(titleLines[0]);
svg.append("text").attr("x", cxMid).attr("y", 57)
  .attr("text-anchor", "middle").attr("font-size", 24).attr("letter-spacing", 0.4).text(titleLines[1]);

svg.append("text").attr("x", cxMid).attr("y", 485)
  .attr("text-anchor", "middle").attr("font-size", 24).attr("letter-spacing", 0.4).text(xLabel);

const yl = svg.append("text")
  .attr("transform", `translate(37,${(y(0) + y(10)) / 2}) rotate(-90)`)
  .attr("text-anchor", "middle").attr("font-size", 24).attr("letter-spacing", 0.4);
yl.append("tspan").text(yLabel);
yl.append("tspan").attr("dy", -10).attr("font-size", 16).text("2");
yl.append("tspan").attr("dy", 10).text(")");
</script>
</body>
</html>
